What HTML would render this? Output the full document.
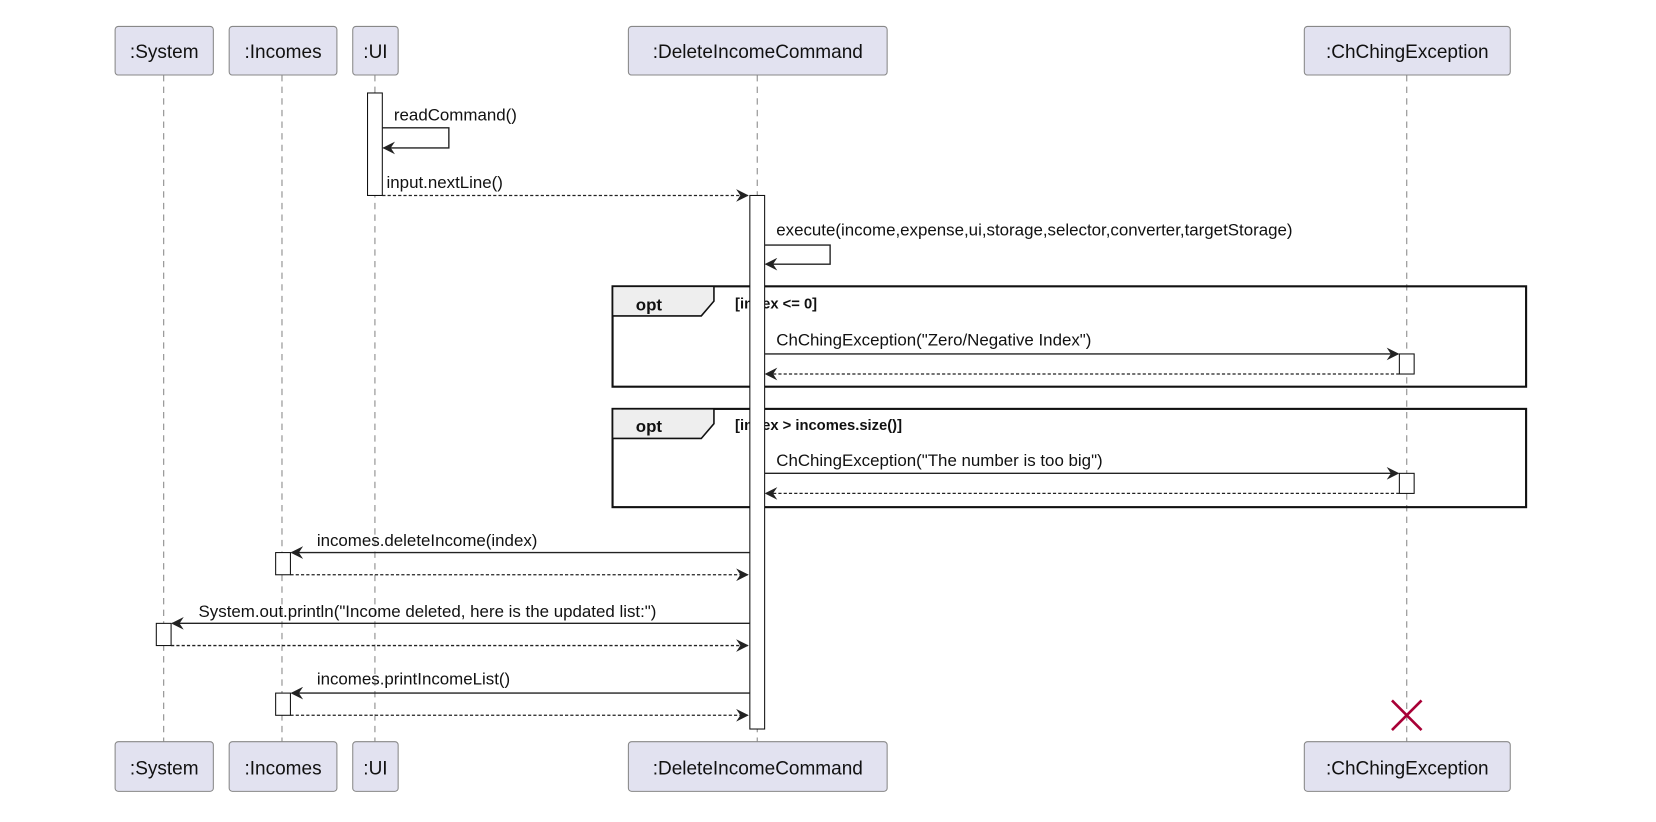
<!DOCTYPE html>
<html><head><meta charset="utf-8"><style>
html,body{margin:0;padding:0;background:#fff;}
svg{display:block}
text{font-family:"Liberation Sans",sans-serif;fill:#111;}
</style></head><body>
<svg width="1656" height="822" viewBox="0 0 1568 778" preserveAspectRatio="none" xmlns="http://www.w3.org/2000/svg">
<defs>
<marker id="a" viewBox="0 0 12 12" refX="11" refY="6" markerWidth="12" markerHeight="12" markerUnits="userSpaceOnUse" orient="auto">
<path d="M0,0 L12,6 L0,12 L4,6 Z" fill="#222"/></marker>
</defs>
<g stroke="#888" stroke-width="1" stroke-dasharray="6,5">
<line x1="155" y1="71" x2="155" y2="702"/>
<line x1="267" y1="71" x2="267" y2="702"/>
<line x1="355" y1="71" x2="355" y2="702"/>
<line x1="717" y1="71" x2="717" y2="702"/>
<line x1="1332" y1="71" x2="1332" y2="702"/>
</g>
<g fill="#e2e2f0" stroke="#888" stroke-width="1">
<rect x="109" y="25" width="93" height="46" rx="3"/>
<rect x="217" y="25" width="102" height="46" rx="3"/>
<rect x="334" y="25" width="43" height="46" rx="3"/>
<rect x="595" y="25" width="245" height="46" rx="3"/>
<rect x="1235" y="25" width="195" height="46" rx="3"/>
<rect x="109" y="702" width="93" height="47" rx="3"/>
<rect x="217" y="702" width="102" height="47" rx="3"/>
<rect x="334" y="702" width="43" height="47" rx="3"/>
<rect x="595" y="702" width="245" height="47" rx="3"/>
<rect x="1235" y="702" width="195" height="47" rx="3"/>
</g>
<g font-size="18" text-anchor="middle">
<text x="155.5" y="55">:System</text><text x="268" y="55">:Incomes</text><text x="355.5" y="55">:UI</text>
<text x="717.5" y="55">:DeleteIncomeCommand</text><text x="1332.5" y="55">:ChChingException</text>
<text x="155.5" y="733">:System</text><text x="268" y="733">:Incomes</text><text x="355.5" y="733">:UI</text>
<text x="717.5" y="733">:DeleteIncomeCommand</text><text x="1332.5" y="733">:ChChingException</text>
</g>
<!-- opt frames -->
<g stroke="#111" stroke-width="2" fill="none">
<rect x="580" y="271" width="865" height="95"/>
<rect x="580" y="387" width="865" height="93"/>
</g>
<g stroke="#111" stroke-width="1.5" fill="#eee">
<path d="M580,271 L676,271 L676,285 L664,299 L580,299 Z"/>
<path d="M580,387 L676,387 L676,401 L664,415 L580,415 Z"/>
</g>
<g font-size="16" font-weight="bold">
<text x="602" y="294">opt</text><text x="602" y="409">opt</text>
</g>
<g font-size="14" font-weight="bold">
<text x="696" y="292">[index &lt;= 0]</text><text x="696" y="407">[index &gt; incomes.size()]</text>
</g>
<!-- activations -->
<g fill="#fff" stroke="#111" stroke-width="1">
<rect x="348" y="88" width="14" height="97"/>
<rect x="710" y="185" width="14" height="505"/>
<rect x="1325" y="335" width="14" height="19"/>
<rect x="1325" y="448" width="14" height="19"/>
<rect x="261" y="523" width="14" height="21"/>
<rect x="148" y="590" width="14" height="21"/>
<rect x="261" y="656" width="14" height="21"/>
</g>
<!-- messages -->
<g stroke="#222" stroke-width="1.3" fill="none">
<polyline points="362,121 425,121 425,140 363,140" marker-end="url(#a)"/>
<polyline points="724,232 786,232 786,250 725,250" marker-end="url(#a)"/>
<line x1="724" y1="335" x2="1324" y2="335" marker-end="url(#a)"/>
<line x1="724" y1="448" x2="1324" y2="448" marker-end="url(#a)"/>
<line x1="710" y1="523" x2="276" y2="523" marker-end="url(#a)"/>
<line x1="710" y1="590" x2="163" y2="590" marker-end="url(#a)"/>
<line x1="710" y1="656" x2="276" y2="656" marker-end="url(#a)"/>
</g>
<g stroke="#222" stroke-width="1.2" fill="none" stroke-dasharray="3,2">
<line x1="362" y1="185" x2="708" y2="185" marker-end="url(#a)"/>
<line x1="1325" y1="354" x2="725" y2="354" marker-end="url(#a)"/>
<line x1="1325" y1="467" x2="725" y2="467" marker-end="url(#a)"/>
<line x1="275" y1="544" x2="708" y2="544" marker-end="url(#a)"/>
<line x1="162" y1="611" x2="708" y2="611" marker-end="url(#a)"/>
<line x1="275" y1="677" x2="708" y2="677" marker-end="url(#a)"/>
</g>
<g font-size="16">
<text x="373" y="114">readCommand()</text>
<text x="366" y="178">input.nextLine()</text>
<text x="735" y="223">execute(income,expense,ui,storage,selector,converter,targetStorage)</text>
<text x="735" y="327">ChChingException("Zero/Negative Index")</text>
<text x="735" y="441">ChChingException("The number is too big")</text>
<text x="300" y="517">incomes.deleteIncome(index)</text>
<text x="188" y="584">System.out.println("Income deleted, here is the updated list:")</text>
<text x="300" y="648">incomes.printIncomeList()</text>
</g>
<g stroke="#a80036" stroke-width="2.5">
<line x1="1318" y1="663" x2="1346" y2="691"/><line x1="1346" y1="663" x2="1318" y2="691"/>
</g>
</svg>
</body></html>
